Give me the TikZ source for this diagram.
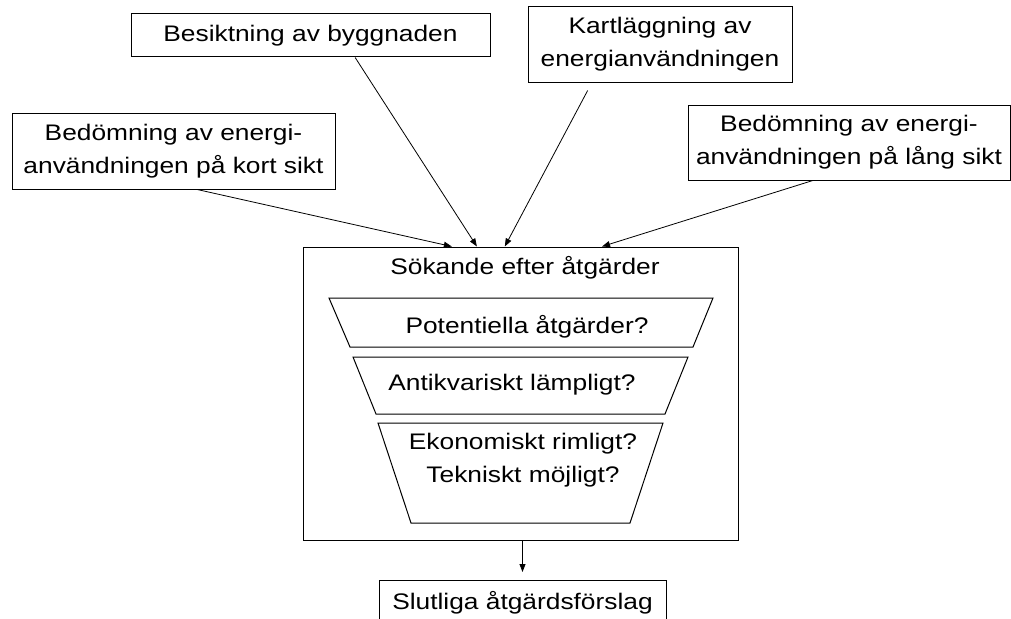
\documentclass[tikz,border=0pt]{standalone}
\usepackage{fontspec}
\setmainfont{Liberation Sans}[FakeStretch=1.17]
\usetikzlibrary{arrows.meta,calc}
\tikzset{
  box/.style={draw, line width=1pt, inner sep=0pt, align=center, font=\fontsize{22.5}{33}\selectfont},
  lbl/.style={inner sep=0pt, align=center, font=\fontsize{22.5}{33}\selectfont},
  conn/.style={line width=0.8pt, -{Triangle[length=8pt,width=6pt]}},
  funnel/.style={draw, line width=1pt}
}
\begin{document}
\begin{tikzpicture}[x=1pt,y=-1pt]
\useasboundingbox (0,0) rectangle (1011,618);
\clip (0,0) rectangle (1011,618);
% top boxes
\node[box, minimum width=359pt, minimum height=43pt] (besikt) at (310.5,35.5) {Besiktning av byggnaden};
\node[box, minimum width=264pt, minimum height=75pt] (kart) at (660,44.5) {Kartläggning av\\energianvändningen};
\node[box, minimum width=323pt, minimum height=76pt] (kort) at (173.5,151) {Bedömning av energi-\\användningen på kort sikt};
\node[box, minimum width=322pt, minimum height=75pt] (lang) at (849,142.5) {Bedömning av energi-\\användningen på lång sikt};
% main box
\node[box, minimum width=435pt, minimum height=293pt] (main) at (520.5,393.5) {};
\node[lbl] (title) at (525,268) {Sökande efter åtgärder};
% funnel
\draw[funnel] (329,298) -- (713,298) -- (693,347) -- (350,347) -- cycle;
\draw[funnel] (353,357) -- (688,357) -- (665,414) -- (376,414) -- cycle;
\draw[funnel] (378,423) -- (663,423) -- (630,523) -- (411,523) -- cycle;
\node[lbl] (pot) at (527,327) {Potentiella åtgärder?};
\node[lbl] (anti) at (512,385) {Antikvariskt lämpligt?};
\node[lbl] (eko) at (523,460.5) {Ekonomiskt rimligt?\\Tekniskt möjligt?};
% final box
\node[box, minimum width=287pt, minimum height=44pt, anchor=north] (final) at (522.5,580) {Slutliga åtgärdsförslag};
% connectors
\coordinate (s1) at ($(kort.south west)!0.573!(kort.south east)$);
\coordinate (s2) at ($(besikt.south west)!0.624!(besikt.south east)$);
\coordinate (s3) at ($(kart.south west)!0.227!(kart.south east)+(0,8)$);
\coordinate (s4) at ($(lang.south west)!0.388!(lang.south east)$);
\coordinate (e1) at ($(main.north west)!0.3425!(main.north east)$);
\coordinate (e2) at ($(main.north west)!0.40!(main.north east)$);
\coordinate (e3) at ($(main.north west)!0.464!(main.north east)$);
\coordinate (e4) at ($(main.north west)!0.687!(main.north east)$);
\draw[conn] (s1) -- (e1);
\draw[conn] (s2) -- (e2);
\draw[conn] (s3) -- (e3);
\draw[conn] (s4) -- (e4);
\draw[conn] (main.south -| final.north) -- ([yshift=8pt]final.north);
\end{tikzpicture}
\end{document}
